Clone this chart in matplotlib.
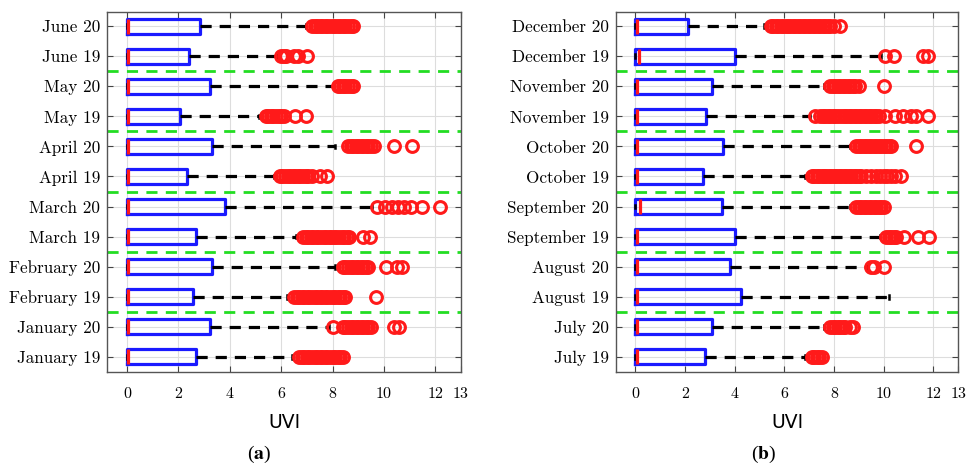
import matplotlib
matplotlib.use('Agg')
import matplotlib.pyplot as plt

plt.rcParams['mathtext.fontset'] = 'stix'
plt.rcParams['axes.formatter.use_mathtext'] = True

### monthly UVI distributions, rows listed from bottom to top

# panel (a): January - June
labels_a = ['January 19', 'January 20', 'February 19', 'February 20', 'March 19', 'March 20',
            'April 19', 'April 20', 'May 19', 'May 20', 'June 19', 'June 20']
med_a = [0.05, 0.05, 0.05, 0.05, 0.05, 0.05, 0.05, 0.05, 0.05, 0.05, 0.05, 0.05]
q3_a = [2.68, 3.22, 2.55, 3.32, 2.68, 3.82, 2.34, 3.32, 2.07, 3.25, 2.41, 2.85]
whishi_a = [6.44, 7.88, 6.24, 8.1, 6.58, 9.53, 5.72, 8.1, 5.15, 8.04, 5.83, 6.97]
fliers_a = [
    [6.7, 6.8, 6.9, 7.0, 7.1, 7.2, 7.3, 7.4, 7.5, 7.6, 7.7, 7.8, 7.9, 8.0, 8.1, 8.2, 8.3, 8.4],
    [8.0, 8.4, 8.5, 8.6, 8.7, 8.8, 8.9, 9.0, 9.1, 9.2, 9.3, 9.4, 9.5, 10.38, 10.6],
    [6.5, 6.6, 6.7, 6.8, 6.9, 7.0, 7.1, 7.2, 7.3, 7.4, 7.5, 7.6, 7.7, 7.8, 7.9, 8.0, 8.1,
     8.2, 8.3, 8.4, 8.5, 9.7],
    [8.4, 8.5, 8.6, 8.7, 8.8, 8.9, 9.0, 9.1, 9.2, 9.3, 9.4, 10.1, 10.5, 10.7],
    [6.85, 6.95, 7.05, 7.15, 7.25, 7.35, 7.45, 7.55, 7.65, 7.75, 7.85, 7.95, 8.05, 8.15,
     8.25, 8.35, 8.45, 8.55, 8.65, 9.2, 9.45],
    [9.75, 10.05, 10.3, 10.55, 10.8, 11.05, 11.5, 12.2],
    [5.95, 6.05, 6.15, 6.25, 6.35, 6.45, 6.55, 6.65, 6.75, 6.85, 6.95, 7.05, 7.2, 7.5, 7.8],
    [8.6, 8.7, 8.8, 8.9, 9.0, 9.1, 9.2, 9.3, 9.4, 9.5, 9.6, 10.4, 11.1],
    [5.4, 5.5, 5.6, 5.7, 5.8, 5.9, 6.0, 6.1, 6.55, 6.95],
    [8.2, 8.3, 8.4, 8.5, 8.6, 8.7, 8.8],
    [6.0, 6.1, 6.2, 6.5, 6.65, 7.0],
    [7.2, 7.3, 7.4, 7.5, 7.6, 7.7, 7.8, 7.9, 8.0, 8.1, 8.2, 8.3, 8.4, 8.5, 8.6, 8.7, 8.8],
]

# panel (b): July - December
labels_b = ['July 19', 'July 20', 'August 19', 'August 20', 'September 19', 'September 20',
            'October 19', 'October 20', 'November 19', 'November 20', 'December 19', 'December 20']
med_b = [0.05, 0.05, 0.05, 0.05, 0.05, 0.19, 0.05, 0.05, 0.05, 0.07, 0.16, 0.05]
q3_b = [2.81, 3.08, 4.24, 3.8, 4.01, 3.5, 2.74, 3.55, 2.84, 3.08, 4.01, 2.14]
whishi_b = [6.85, 7.59, 10.23, 9.33, 9.86, 8.66, 6.85, 8.66, 7.05, 7.59, 9.9, 5.18]
fliers_b = [
    [7.1, 7.2, 7.3, 7.4, 7.5],
    [7.85, 7.95, 8.05, 8.15, 8.25, 8.35, 8.45, 8.65, 8.75],
    [],
    [9.5, 9.6, 10.0],
    [10.1, 10.2, 10.3, 10.4, 10.5, 10.82, 11.4, 11.83],
    [8.9, 9.0, 9.1, 9.2, 9.3, 9.4, 9.5, 9.6, 9.7, 9.8, 9.9, 10.0],
    [7.1, 7.2, 7.3, 7.4, 7.5, 7.6, 7.7, 7.8, 7.9, 8.0, 8.1, 8.2, 8.3, 8.4, 8.5, 8.6, 8.7,
     8.8, 8.9, 9.0, 9.1, 9.3, 9.5, 9.7, 9.85, 10.0, 10.15, 10.3, 10.45, 10.7],
    [8.9, 9.0, 9.1, 9.2, 9.3, 9.4, 9.5, 9.6, 9.7, 9.8, 9.9, 10.0, 10.1, 10.2, 10.3, 11.3],
    [7.25, 7.45, 7.55, 7.65, 7.75, 7.85, 7.95, 8.05, 8.15, 8.3, 8.4, 8.5, 8.6, 8.7, 8.8,
     8.9, 9.0, 9.1, 9.2, 9.3, 9.4, 9.5, 9.6, 9.7, 9.8, 10.05, 10.45, 10.8, 11.1, 11.3, 11.77],
    [7.85, 7.95, 8.05, 8.15, 8.25, 8.35, 8.45, 8.55, 8.65, 8.75, 8.85, 9.0, 10.02],
    [10.06, 10.43, 11.6, 11.77],
    [5.45, 5.55, 5.65, 5.75, 5.85, 5.95, 6.05, 6.15, 6.25, 6.35, 6.45, 6.55, 6.65, 6.75,
     6.85, 6.95, 7.05, 7.15, 7.25, 7.35, 7.45, 7.55, 7.65, 7.75, 7.85, 8.0, 8.25],
]

x_ticks = [0, 2, 4, 6, 8, 10, 12, 13]


def draw_panel(ax, labels, med, q3, whishi, fliers, tag, label_size):
    stats = []
    for i in range(len(labels)):
        stats.append({'label': labels[i], 'q1': 0.0, 'med': med[i], 'q3': q3[i],
                      'whislo': 0.0, 'whishi': whishi[i], 'fliers': fliers[i]})
    positions = list(range(1, len(labels) + 1))
    ax.bxp(stats, positions=positions, orientation='horizontal', widths=0.5,
           capwidths=0.12, patch_artist=False,
           boxprops=dict(color='#1a1aff', linewidth=2.3),
           medianprops=dict(color='#ff1a1a', linewidth=2.3),
           whiskerprops=dict(color='black', linewidth=2.3, linestyle=(0, (3.5, 2.5))),
           capprops=dict(color='black', linewidth=1.8),
           flierprops=dict(marker='o', markerfacecolor='none', markeredgecolor='#ff1a1a',
                           markersize=8.5, markeredgewidth=2.2))

    # separators between month pairs
    for y in [2.5, 4.5, 6.5, 8.5, 10.5]:
        ax.axhline(y, color='#22dd22', linewidth=2, linestyle=(0, (4, 3)), zorder=1)

    ax.set_xlim(-0.78, 13)
    ax.set_ylim(0.5, 12.47)
    ax.set_xticks(x_ticks)
    ax.set_xticklabels([str(t) for t in x_ticks], fontfamily='cmr10', fontsize=11.5)
    ax.set_yticks(positions)
    ax.set_yticklabels(labels, fontfamily='cmr10', fontsize=label_size)
    ax.tick_params(direction='in', length=4, width=0.8, color='#444444',
                   top=True, right=True, pad=5)
    ax.tick_params(axis='x', pad=11)
    ax.grid(True, color='#dddddd', linewidth=0.8, zorder=0)
    ax.set_axisbelow(True)
    for s in ax.spines.values():
        s.set_color('#555555')
        s.set_linewidth(1.0)
    ax.set_xlabel('UVI', fontsize=13.5, labelpad=9)
    ax.text(0.43, -0.23, '(' + r'$\mathbf{' + tag + '}$' + ')', transform=ax.transAxes,
            fontsize=14, fontfamily='Liberation Serif', ha='center', va='center')


fig = plt.figure(figsize=(9.75, 4.72), dpi=100)
ax_a = fig.add_axes([0.1097, 0.2119, 0.3631, 0.7627])
ax_b = fig.add_axes([0.6318, 0.2119, 0.3508, 0.7627])

draw_panel(ax_a, labels_a, med_a, q3_a, whishi_a, fliers_a, 'a', 12.3)
draw_panel(ax_b, labels_b, med_b, q3_b, whishi_b, fliers_b, 'b', 12.3)

fig.savefig('out.png', dpi=100)
